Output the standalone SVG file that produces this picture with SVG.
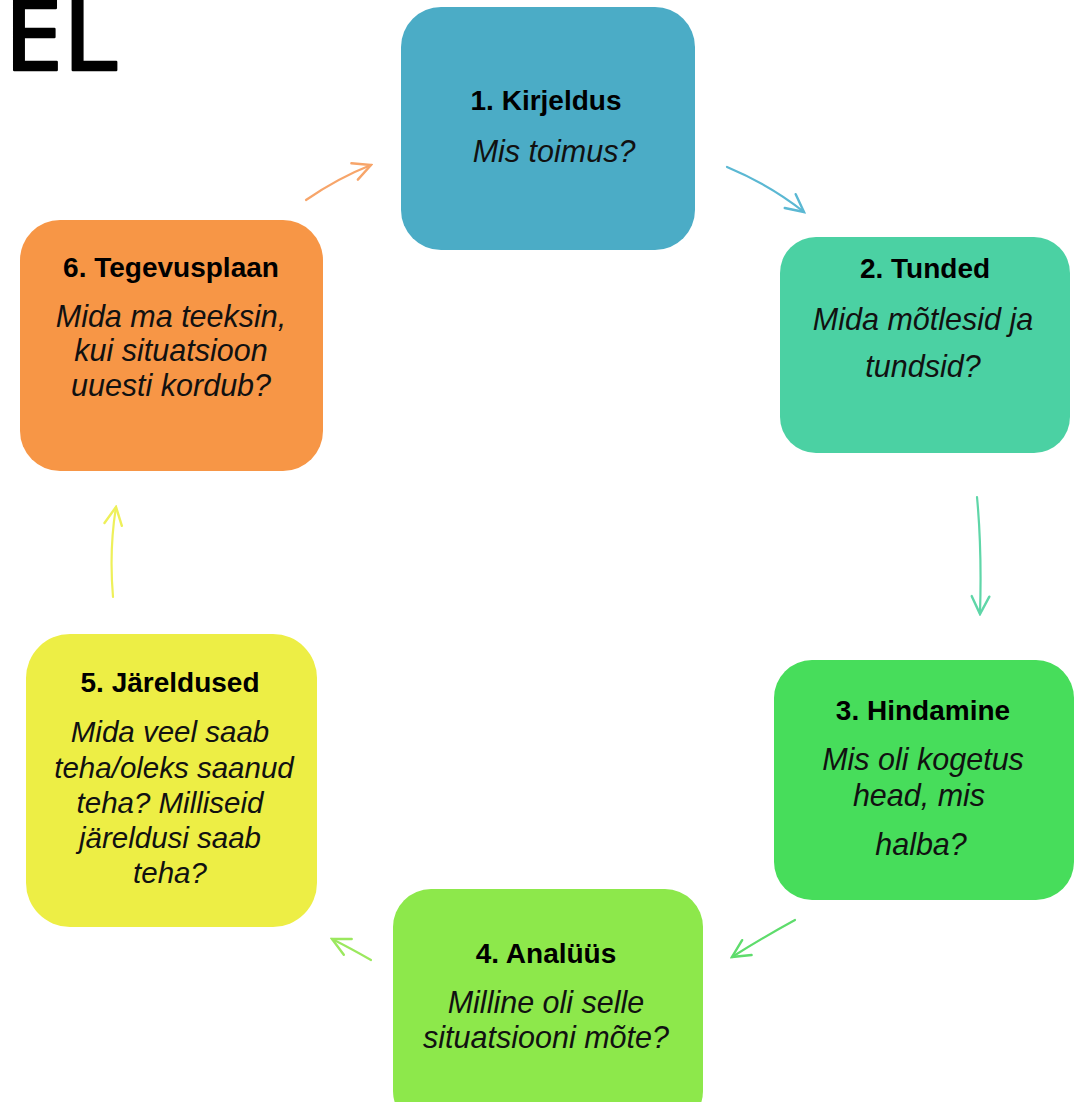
<svg xmlns="http://www.w3.org/2000/svg" width="1074" height="1102" viewBox="0 0 1074 1102">
<defs>
<style>
.t{font-family:"Liberation Sans",Arial,sans-serif;font-weight:bold;font-size:28px;fill:#000;text-anchor:middle}
.s{font-family:"Liberation Sans",Arial,sans-serif;font-style:italic;font-size:30.5px;fill:#111;text-anchor:middle}
.s5{font-size:29.5px}
.c{fill:none;stroke-width:2.2;stroke-linecap:round}
</style>
<marker id="m1" viewBox="0 0 20 20" refX="18" refY="10" markerWidth="22" markerHeight="22" markerUnits="userSpaceOnUse" orient="auto"><path d="M2,2 L18,10 L2,18" fill="none" stroke="#F7A56A" stroke-width="2.2" stroke-linecap="round"/></marker>
<marker id="m2" viewBox="0 0 20 20" refX="18" refY="10" markerWidth="22" markerHeight="22" markerUnits="userSpaceOnUse" orient="auto"><path d="M2,2 L18,10 L2,18" fill="none" stroke="#5BB8D3" stroke-width="2.2" stroke-linecap="round"/></marker>
<marker id="m3" viewBox="0 0 20 20" refX="18" refY="10" markerWidth="22" markerHeight="22" markerUnits="userSpaceOnUse" orient="auto"><path d="M2,2 L18,10 L2,18" fill="none" stroke="#5FD6A8" stroke-width="2.2" stroke-linecap="round"/></marker>
<marker id="m4" viewBox="0 0 20 20" refX="18" refY="10" markerWidth="22" markerHeight="22" markerUnits="userSpaceOnUse" orient="auto"><path d="M2,2 L18,10 L2,18" fill="none" stroke="#5EDC6C" stroke-width="2.2" stroke-linecap="round"/></marker>
<marker id="m5" viewBox="0 0 20 20" refX="18" refY="10" markerWidth="22" markerHeight="22" markerUnits="userSpaceOnUse" orient="auto"><path d="M2,2 L18,10 L2,18" fill="none" stroke="#9BE85E" stroke-width="2.2" stroke-linecap="round"/></marker>
<marker id="m6" viewBox="0 0 20 20" refX="18" refY="10" markerWidth="22" markerHeight="22" markerUnits="userSpaceOnUse" orient="auto"><path d="M2,2 L18,10 L2,18" fill="none" stroke="#EEF05A" stroke-width="2.2" stroke-linecap="round"/></marker>
</defs>
<rect width="1074" height="1102" fill="#fff"/>
<text x="5" y="70" font-family="DejaVu Sans Mono, monospace" font-size="96" fill="#000" stroke="#000" stroke-width="2.5" stroke-linejoin="round">EL</text>

<g id="connectors">
<path class="c" d="M306,200 Q338,178 371,165" stroke="#F7A56A" marker-end="url(#m1)"/>
<path class="c" d="M727,167 Q770,185 804,212" stroke="#5BB8D3" marker-end="url(#m2)"/>
<path class="c" d="M977,497 Q982,550 980,614" stroke="#5FD6A8" marker-end="url(#m3)"/>
<path class="c" d="M795,920 Q762,938 732,957" stroke="#5EDC6C" marker-end="url(#m4)"/>
<path class="c" d="M371,960 Q350,948 332,939" stroke="#9BE85E" marker-end="url(#m5)"/>
<path class="c" d="M113,597 Q109,550 116,507" stroke="#EEF05A" marker-end="url(#m6)"/>
</g>

<g id="node1">
<rect x="401" y="7" width="294" height="243" rx="40" fill="#4BACC6"/>
<text class="t" x="546" y="110">1. Kirjeldus</text>
<text class="s" x="554" y="162">Mis toimus?</text>
</g>
<g id="node2">
<rect x="780" y="237" width="290" height="216" rx="36" fill="#4BD1A3"/>
<text class="t" x="925" y="278">2. Tunded</text>
<text class="s" x="923" y="330">Mida mõtlesid ja</text>
<text class="s" x="923" y="377">tundsid?</text>
</g>
<g id="node3">
<rect x="774" y="660" width="300" height="240" rx="38" fill="#47DD5B"/>
<text class="t" x="923" y="720">3. Hindamine</text>
<text class="s" x="923" y="770">Mis oli kogetus</text>
<text class="s" x="919" y="806">head, mis</text>
<text class="s" x="921" y="855">halba?</text>
</g>
<g id="node4">
<rect x="393" y="889" width="310" height="240" rx="38" fill="#8DE84B"/>
<text class="t" x="546" y="963">4. Analüüs</text>
<text class="s" x="546" y="1013">Milline oli selle</text>
<text class="s" x="546" y="1048">situatsiooni  mõte?</text>
</g>
<g id="node5">
<rect x="26" y="634" width="291" height="293" rx="44" fill="#EDEE45"/>
<text class="t" x="170" y="692">5. Järeldused</text>
<text class="s s5" x="170" y="742">Mida veel saab</text>
<text class="s s5" x="174" y="778">teha/oleks saanud</text>
<text class="s s5" x="170" y="813">teha? Milliseid</text>
<text class="s s5" x="170" y="848">järeldusi saab</text>
<text class="s s5" x="170" y="883">teha?</text>
</g>
<g id="node6">
<rect x="20" y="220" width="303" height="251" rx="40" fill="#F79646"/>
<text class="t" x="171" y="277">6. Tegevusplaan</text>
<text class="s" x="171" y="327">Mida ma teeksin,</text>
<text class="s" x="171" y="361">kui situatsioon</text>
<text class="s" x="171" y="396">uuesti kordub?</text>
</g>
</svg>
